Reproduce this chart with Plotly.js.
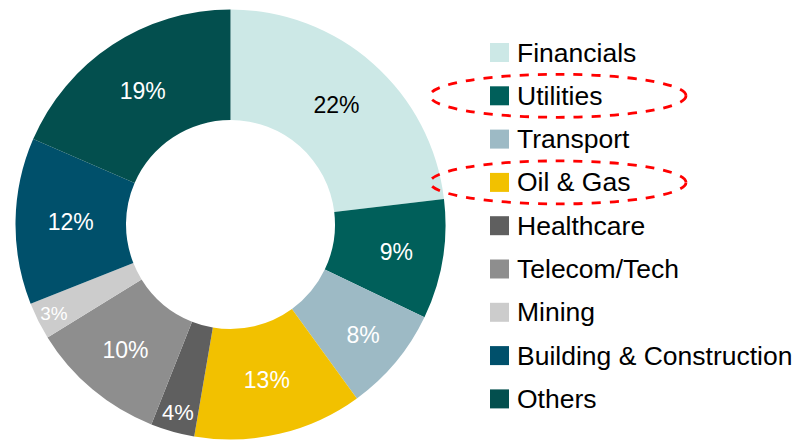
<!DOCTYPE html>
<html>
<head>
<meta charset="utf-8">
<script src="https://cdn.plot.ly/plotly-3.0.1.min.js"></script>
<style>html,body{margin:0;padding:0;background:#fff;}#chart{width:811px;height:442px;}</style>
</head>
<body>
<div id="chart"></div>
<script>
// Data
const categories = ["Financials", "Utilities", "Transport", "Oil & Gas", "Healthcare", "Telecom/Tech", "Mining", "Building & Construction", "Others"];
const shares = [23.1, 9.0, 7.9, 12.7, 3.3, 10.2, 2.8, 12.5, 18.5];
const shareLabels = ["22%", "9%", "8%", "13%", "4%", "10%", "3%", "12%", "19%"];
const colors = ["#CCE8E6", "#005F5A", "#9DBAC5", "#F2C100", "#5F5F5F", "#8E8E8E", "#CCCCCC", "#00506B", "#034F4E"];
const textColors = ["#000000", "#FFFFFF", "#FFFFFF", "#FFFFFF", "#FFFFFF", "#FFFFFF", "#FFFFFF", "#FFFFFF", "#FFFFFF"];
const highlighted = ["Utilities", "Oil & Gas"];

const W = 811, H = 442;
const px = x => x / W;
const py = y => 1 - y / H;

const trace = {
  type: "pie",
  labels: categories,
  values: shares,
  text: shareLabels,
  textinfo: "text",
  textposition: "inside",
  insidetextorientation: "horizontal",
  sort: false,
  direction: "clockwise",
  rotation: 0,
  hole: 0.486,
  marker: { colors: colors, line: { width: 0 } },
  insidetextfont: { family: "Liberation Sans, Arial, sans-serif", size: 23, color: textColors },
  domain: { x: [px(15.5), px(445.5)], y: [py(439.5), py(9.5)] },
  showlegend: false,
  hoverinfo: "label+text"
};

// Custom legend built from the category/color arrays
const legendX = 490, legendTextX = 515, firstRowY = 52.5, rowStep = 43.3, sq = 19;
const shapes = [];
const annotations = [];
categories.forEach((c, i) => {
  const cy = firstRowY + i * rowStep;
  shapes.push({
    type: "rect", xref: "paper", yref: "paper",
    x0: px(legendX), x1: px(legendX + sq),
    y0: py(cy + sq / 2), y1: py(cy - sq / 2),
    fillcolor: colors[i], line: { width: 0 }
  });
  annotations.push({
    xref: "paper", yref: "paper", x: px(legendTextX), y: py(cy),
    xanchor: "left", yanchor: "middle", showarrow: false, text: c,
    font: { family: "Liberation Sans, Arial, sans-serif", size: 26.5, color: "#000000" }
  });
  if (highlighted.includes(c)) {
    shapes.push({
      type: "circle", xref: "paper", yref: "paper",
      x0: px(430), x1: px(686),
      y0: py(cy + 21.5), y1: py(cy - 21.5),
      line: { color: "#FF0000", width: 2.8, dash: "dash" },
      fillcolor: "rgba(0,0,0,0)"
    });
  }
});

const layout = {
  width: W, height: H,
  margin: { l: 0, r: 0, t: 0, b: 0 },
  paper_bgcolor: "#FFFFFF",
  showlegend: false,
  shapes: shapes,
  annotations: annotations,
  font: { family: "Liberation Sans, Arial, sans-serif" }
};

Plotly.newPlot("chart", [trace], layout, { displayModeBar: false, staticPlot: true });
</script>
</body>
</html>
